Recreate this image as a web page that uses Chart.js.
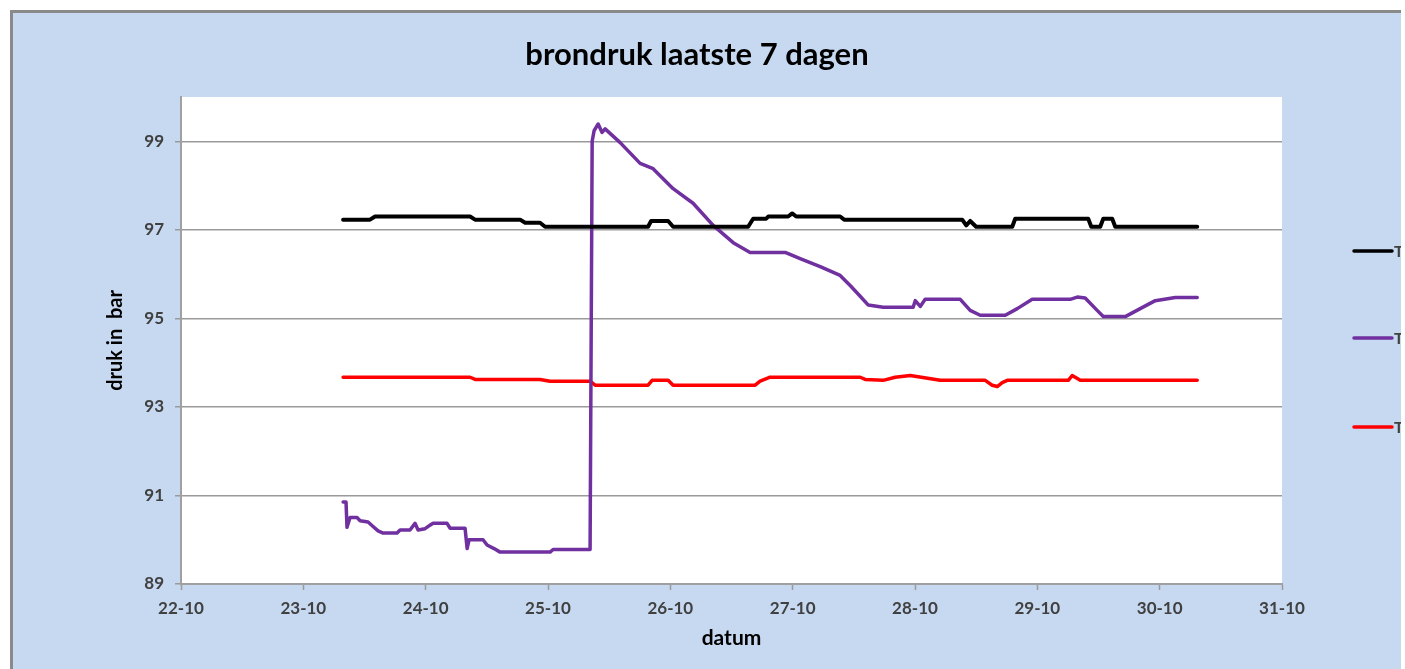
<!DOCTYPE html>
<html>
<head>
<meta charset="utf-8">
<script src="https://cdn.jsdelivr.net/npm/chart.js@4/dist/chart.umd.min.js"></script>
<style>
html,body{margin:0;padding:0;background:#fff;overflow:hidden;}
#wrap{position:absolute;left:0;top:0;width:1405px;height:669px;}
</style>
</head>
<body>
<div id="wrap"><canvas id="c" width="1405" height="669"></canvas></div>
<script>
// x = days since 22-10 00:00
const xTickValues = [0,1,2,3,4,5,6,7,8,9];
const xTickLabels = ['22-10','23-10','24-10','25-10','26-10','27-10','28-10','29-10','30-10','31-10'];
const yTickValues = [89,91,93,95,97,99];

const chartTitle = 'brondruk laatste 7 dagen';
const seriesLabels = ['T1','T2','T3'];

const blackX = [1.325,1.545,1.586,2.363,2.404,2.772,2.813,2.935,2.976,3.818,3.843,3.982,4.023,4.636,4.677,4.783,4.8,4.963,4.996,5.029,5.388,5.421,6.386,6.419,6.451,6.5,6.795,6.819,7.416,7.441,7.514,7.539,7.612,7.637,8.307];
const blackY = [97.23,97.23,97.3,97.3,97.23,97.23,97.16,97.16,97.07,97.07,97.2,97.2,97.07,97.07,97.25,97.25,97.3,97.3,97.37,97.3,97.3,97.23,97.23,97.1,97.2,97.07,97.07,97.25,97.25,97.07,97.07,97.25,97.25,97.07,97.07];

const purpleX = [1.325,1.349,1.357,1.382,1.439,1.464,1.529,1.57,1.611,1.652,1.766,1.791,1.872,1.913,1.938,1.995,2.036,2.061,2.175,2.2,2.322,2.339,2.355,2.469,2.502,2.559,2.608,3.017,3.042,3.344,3.361,3.377,3.41,3.442,3.467,3.59,3.753,3.859,4.023,4.186,4.35,4.514,4.652,4.939,5.061,5.225,5.388,5.470,5.552,5.618,5.74,5.985,6.002,6.043,6.083,6.37,6.451,6.533,6.738,6.836,6.958,7.269,7.326,7.391,7.489,7.539,7.719,7.841,7.964,8.128,8.307];
const purpleY = [90.85,90.85,90.28,90.5,90.5,90.43,90.4,90.3,90.2,90.15,90.15,90.22,90.22,90.37,90.22,90.25,90.33,90.37,90.37,90.26,90.26,89.8,90.0,90.0,89.88,89.8,89.72,89.72,89.78,89.78,99.0,99.24,99.39,99.2,99.28,98.97,98.5,98.38,97.93,97.6,97.1,96.71,96.49,96.49,96.35,96.17,95.97,95.74,95.5,95.3,95.25,95.25,95.4,95.27,95.43,95.43,95.18,95.07,95.07,95.22,95.43,95.43,95.48,95.46,95.18,95.04,95.04,95.22,95.4,95.47,95.47];

const redX = [1.325,2.363,2.404,2.935,3.017,3.344,3.385,3.818,3.851,3.982,4.023,4.693,4.734,4.816,5.552,5.593,5.74,5.838,5.961,6.206,6.574,6.631,6.672,6.713,6.754,7.253,7.285,7.351,8.307];
const redY = [93.67,93.67,93.62,93.62,93.58,93.58,93.49,93.49,93.6,93.6,93.49,93.49,93.58,93.67,93.67,93.62,93.6,93.67,93.71,93.6,93.6,93.49,93.46,93.55,93.6,93.6,93.71,93.6,93.6];

function pts(xs, ys){ return xs.map((x,i)=>({x:x, y:ys[i]})); }

const FONT = 'Lato';

const bgPlugin = {
  id: 'bg',
  beforeDraw(chart){
    const {ctx, chartArea:a} = chart;
    ctx.save();
    ctx.fillStyle = '#ffffff';
    ctx.fillRect(0,0,chart.width,chart.height);
    ctx.fillStyle = '#c6d9f1';
    ctx.fillRect(13,13,1388,chart.height-13);
    ctx.fillStyle = '#8a8a8a';
    ctx.fillRect(10,10,1391,3);
    ctx.fillRect(10,10,3,chart.height-10);
    ctx.fillStyle = '#ffffff';
    ctx.fillRect(a.left,a.top,a.right-a.left,a.bottom-a.top);
    ctx.restore();
  }
};

const titleLegendPlugin = {
  id: 'titleLegend',
  afterDraw(chart){
    const {ctx} = chart;
    ctx.save();
    // title
    ctx.fillStyle = '#000000';
    ctx.font = 'bold 31px ' + FONT;
    ctx.textAlign = 'center';
    ctx.textBaseline = 'alphabetic';
    ctx.fillText(chartTitle, 697, 65);
    // legend
    const ys = [251,338,427];
    ctx.beginPath();
    ctx.rect(0,0,1401,chart.height);
    ctx.clip();
    chart.data.datasets.forEach((ds,i)=>{
      ctx.strokeStyle = ds.borderColor;
      ctx.lineWidth = 3.5;
      ctx.lineCap = 'round';
      ctx.beginPath();
      ctx.moveTo(1354, ys[i]);
      ctx.lineTo(1392, ys[i]);
      ctx.stroke();
      ctx.fillStyle = '#404040';
      ctx.font = 'bold 16px ' + FONT;
      ctx.textBaseline = 'middle';
      ctx.textAlign = 'left';
      ctx.fillText(ds.label, 1394, ys[i]+1);
    });
    ctx.restore();
  }
};

new Chart(document.getElementById('c'), {
  type: 'line',
  data: {
    datasets: [
      {label: seriesLabels[0], data: pts(blackX, blackY), borderColor: '#000000', borderWidth: 4},
      {label: seriesLabels[1], data: pts(purpleX, purpleY), borderColor: '#7030a0', borderWidth: 3.5},
      {label: seriesLabels[2], data: pts(redX, redY), borderColor: '#ff0000', borderWidth: 3.5}
    ]
  },
  options: {
    responsive: false,
    animation: false,
    elements: { point: { radius: 0 }, line: { tension: 0, borderJoinStyle: 'round', borderCapStyle: 'round' } },
    layout: { padding: { left: 12, right: 123, top: 97, bottom: 0 } },
    plugins: {
      legend: { display: false },
      tooltip: { enabled: false },
      title: { display: false }
    },
    scales: {
      x: {
        type: 'linear',
        min: 0, max: 9,
        afterBuildTicks: s => { s.ticks = xTickValues.map(v => ({value: v})); },
        afterFit: s => { s.height = 85; },
        ticks: {
          callback: (v) => { const i = xTickValues.indexOf(v); return i >= 0 ? xTickLabels[i] : ''; },
          color: '#404040',
          font: { family: FONT, size: 17, weight: 'bold' },
          padding: 8,
          maxRotation: 0,
          autoSkip: false
        },
        grid: { drawOnChartArea: false, drawTicks: true, tickLength: 6, tickColor: '#9a9a9a', tickWidth: 1.5 },
        border: { color: '#a0a0a0', width: 2 },
        title: {
          display: true, text: 'datum', color: '#000000',
          font: { family: FONT, size: 21, weight: 'bold' },
          padding: { top: 0, bottom: 18.4 }
        }
      },
      y: {
        type: 'linear',
        min: 89, max: 100,
        afterBuildTicks: s => { s.ticks = yTickValues.map(v => ({value: v})); },
        afterFit: s => { s.width = 169; },
        ticks: {
          color: '#404040',
          font: { family: FONT, size: 17, weight: 'bold' },
          padding: 11,
          autoSkip: false
        },
        grid: { color: '#9a9a9a', lineWidth: 1.5, tickLength: 6, tickColor: '#9a9a9a', tickWidth: 1.5 },
        border: { color: '#a0a0a0', width: 2 },
        title: {
          display: true, text: 'druk in  bar', color: '#000000',
          font: { family: FONT, size: 20, weight: 'bold' },
          padding: { top: 92, bottom: 0 }
        }
      }
    }
  },
  plugins: [bgPlugin, titleLegendPlugin]
});
</script>
</body>
</html>
